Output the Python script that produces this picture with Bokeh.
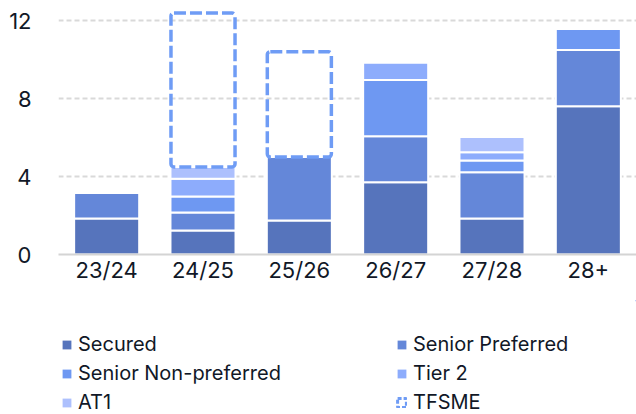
from bokeh.plotting import figure
from bokeh.layouts import column
from bokeh.models import ColumnDataSource, Legend, LegendItem, FactorRange, Range1d, FixedTicker
from bokeh.embed import file_html
from bokeh.resources import INLINE

# Maturity buckets and issuance by instrument (GBP bn)
years = ["23/24", "24/25", "25/26", "26/27", "27/28", "28+"]
secured = [1.85, 1.23, 1.75, 3.70, 1.85, 7.61]
senior_preferred = [1.30, 0.93, 3.25, 2.37, 2.37, 2.88]
senior_non_preferred = [0.0, 0.82, 0.0, 2.88, 0.60, 1.08]
tier2 = [0.0, 0.91, 0.0, 0.89, 0.42, 0.0]
at1 = [0.0, 0.60, 0.0, 0.0, 0.79, 0.0]
tfsme = [0.0, 7.90, 5.40, 0.0, 0.0, 0.0]
y_ticks = [0, 4, 8, 12]

series = [
    ("Secured", secured, "#5674bc"),
    ("Senior Preferred", senior_preferred, "#6487d9"),
    ("Senior Non-preferred", senior_non_preferred, "#6e98f2"),
    ("Tier 2", tier2, "#8dacfc"),
    ("AT1", at1, "#adc0fd"),
]
TFSME_COLOR = "#6f9cf5"

FONT = "Inter"
TEXT = "#111827"

p = figure(
    x_range=FactorRange(*years, range_padding=0),
    y_range=Range1d(0, 13.03),
    width=636, height=300,
    output_backend="svg", toolbar_location=None,
    min_border_left=58, min_border_right=0, min_border_top=0,
    min_border_bottom=46,
)
p.outline_line_color = None
p.background_fill_color = "white"
p.border_fill_color = "white"

bar_w = 0.675
base = [0.0] * len(years)
for name, vals, color in series:
    xs, bottoms, tops = [], [], []
    for i, v in enumerate(vals):
        if v > 0:
            xs.append(years[i])
            bottoms.append(base[i])
            tops.append(base[i] + v)
        base[i] += v
    src = ColumnDataSource(dict(x=xs, bottom=bottoms, top=tops))
    p.vbar(x="x", bottom="bottom", top="top", width=bar_w, source=src,
           fill_color=color, line_color="white", line_width=2)

# TFSME drawn as dashed outline stacked on the bar totals
xs, bottoms, tops = [], [], []
for i, v in enumerate(tfsme):
    if v > 0:
        xs.append(years[i])
        bottoms.append(base[i])
        tops.append(base[i] + v)
tf_src = ColumnDataSource(dict(x=xs, bottom=bottoms, top=tops))
p.vbar(x="x", bottom="bottom", top="top", width=bar_w - 0.01, source=tf_src,
       fill_color=None, line_color=TFSME_COLOR, line_width=3.5,
       line_dash="12 4", border_radius=3)

# axes
p.yaxis.ticker = FixedTicker(ticks=y_ticks)
p.yaxis.axis_line_color = None
p.yaxis.major_tick_line_color = None
p.yaxis.minor_tick_line_color = None
p.yaxis.major_label_text_font = FONT
p.yaxis.major_label_text_font_size = "22px"
p.yaxis.major_label_text_color = TEXT
p.yaxis.major_label_standoff = 21

p.xaxis.axis_line_color = "#d4d4d4"
p.xaxis.axis_line_width = 2
p.xaxis.major_tick_line_color = None
p.xaxis.minor_tick_line_color = None
p.xaxis.major_label_text_font = FONT
p.xaxis.major_label_text_font_size = "22px"
p.xaxis.major_label_text_color = TEXT
p.xaxis.major_label_standoff = -4

p.xgrid.grid_line_color = None
p.ygrid.grid_line_color = "#d9d9d9"
p.ygrid.grid_line_width = 2
p.ygrid.grid_line_dash = "5 3"

# legend panel under the chart, two columns; its swatch renderers sit
# outside the visible range so only the legend entries show
lg = figure(
    width=636, height=114, x_range=Range1d(0, 1), y_range=Range1d(0, 1),
    x_axis_type=None, y_axis_type=None,
    output_backend="svg", toolbar_location=None, min_border=0,
)
lg.outline_line_color = None
lg.xgrid.visible = False
lg.ygrid.visible = False

items = []
for name, _, color in series:
    r = lg.vbar(x=[5], bottom=[5], top=[6], width=0.5, fill_color=color,
                line_color=color, line_width=0)
    items.append(LegendItem(label=name, renderers=[r]))
r_tf = lg.vbar(x=[5], bottom=[5], top=[6], width=0.5, fill_color=None,
               line_color=TFSME_COLOR, line_width=3, line_dash="4 2")
items.append(LegendItem(label="TFSME", renderers=[r_tf]))

legend = Legend(
    items=items, ncols=2, orientation="horizontal",
    label_text_font=FONT, label_text_font_size="20px", label_text_color=TEXT,
    glyph_width=11, glyph_height=11, label_standoff=6, label_width=313,
    label_height=22, spacing=5, padding=0, margin=0,
    border_line_color=None, background_fill_alpha=0,
    location=(3, 0),
)
lg.add_layout(legend, "center")

layout = column(p, lg, spacing=0)
open("out.html", "w").write(file_html(layout, INLINE))
